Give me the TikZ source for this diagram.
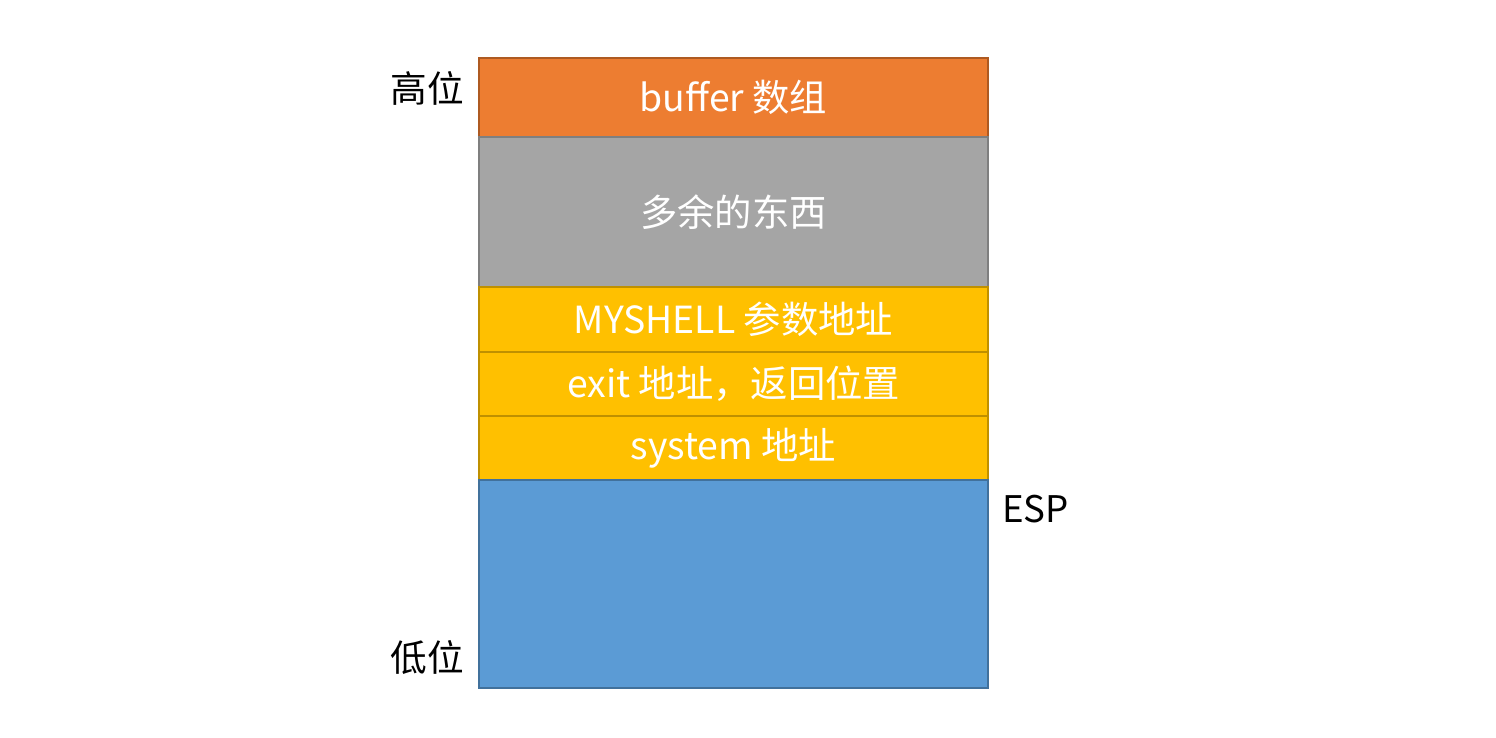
\documentclass[tikz,border=0pt]{standalone}
\usepackage{fontspec}
\setmainfont{Noto Sans CJK SC}
\usetikzlibrary{positioning}

\definecolor{bufOrange}{HTML}{ED7D31}
\definecolor{bufOrangeLine}{HTML}{AE5A21}
\definecolor{junkGray}{HTML}{A5A5A5}
\definecolor{junkGrayLine}{HTML}{7F7F7F}
\definecolor{addrYellow}{HTML}{FFC000}
\definecolor{addrYellowLine}{HTML}{BF9000}
\definecolor{stackBlue}{HTML}{5B9BD5}
\definecolor{stackBlueLine}{HTML}{41719C}

\tikzset{
    cell/.style={draw, line width=1.5pt, inner sep=0pt, outer sep=0pt,
        minimum width=381.75pt, text=white, font=\fontsize{28}{32}\selectfont},
    side/.style={inner sep=0pt, text=black, font=\fontsize{27.5}{32}\selectfont}
}

\begin{document}
\begin{tikzpicture}[x=0.75pt,y=0.75pt]
    \useasboundingbox (0,0) rectangle (1496,738);
    \node[cell, fill=bufOrange, draw=bufOrangeLine, minimum height=59.25pt, anchor=north west] (buf) at (479,680) {buffer 数组};
    \node[cell, fill=junkGray, draw=junkGrayLine, minimum height=112.5pt, below=0pt of buf] (junk) {多余的东西};
    \node[cell, fill=addrYellow, draw=addrYellowLine, minimum height=48.75pt, below=0pt of junk] (arg) {MYSHELL 参数地址};
    \node[cell, fill=addrYellow, draw=addrYellowLine, minimum height=48pt, below=0pt of arg] (ret) {exit 地址，返回位置};
    \node[cell, fill=addrYellow, draw=addrYellowLine, minimum height=48pt, below=0pt of ret] (sys) {system 地址};
    \node[cell, fill=stackBlue, draw=stackBlueLine, minimum height=156pt, below=0pt of sys] (stack) {};
    % labels
    \node[side] (high) at (427,650) {高位};
    \node[side] (low) at (427,80) {低位};
    \node[side, anchor=west] (esp) at (1002,229) {ESP};
\end{tikzpicture}
\end{document}
